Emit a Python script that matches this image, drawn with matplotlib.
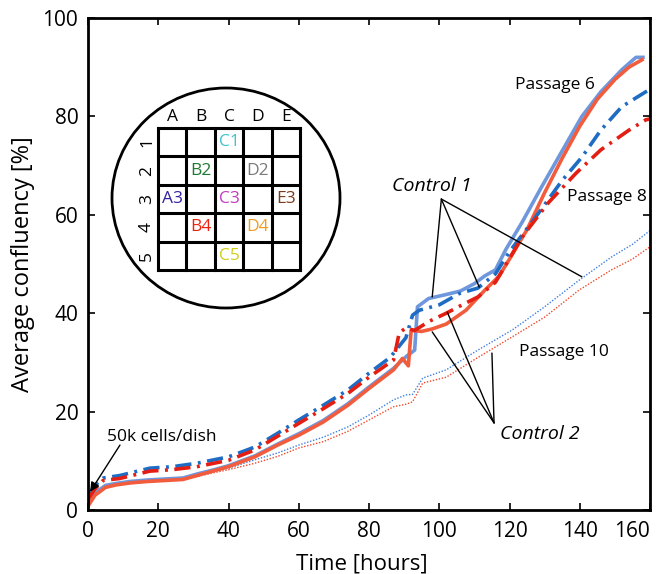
#!/usr/bin/env python3
"""Average confluency over time for three passages, with the 5x5 imaging grid inset."""

import matplotlib

matplotlib.use("Agg")
import matplotlib.pyplot as plt
from matplotlib.patches import Ellipse

plt.rcParams["font.family"] = ["Open Sans", "DejaVu Sans"]

# Passage 6 (solid), control 1 = blue, control 2 = orange
P6_BLUE_T = [0, 2, 5, 8, 12, 17, 22, 27, 31, 36, 40, 47.5, 54, 60, 67, 74, 80, 87, 90.6,
             93, 93.8, 97, 102, 106, 110, 113, 116, 119, 123.6, 129, 135, 140.6, 146, 152, 156, 158]
P6_BLUE_Y = [1.2, 3.5, 5.0, 5.4, 5.8, 6.1, 6.3, 6.5, 7.3, 8.2, 9.0, 11.0, 13.4, 15.5, 18.2, 21.6, 25.0,
             28.8, 31.2, 32.5, 41.3, 43.0, 43.8, 44.5, 46.0, 47.6, 48.8, 53.0, 58.5, 65.5, 73.0, 80.0,
             85.0, 89.5, 92.0, 92.0]
P6_ORANGE_T = [0, 2, 5, 8, 12, 17, 22, 27, 31, 36, 40, 47.5, 54, 60, 67, 74, 80, 87, 89.5, 91.2,
               92, 95, 98, 102, 107.6, 113, 117, 120, 125, 130, 135, 140, 145, 150, 154, 157.7]
P6_ORANGE_Y = [0.8, 3.0, 4.6, 5.1, 5.5, 5.8, 6.0, 6.2, 7.0, 8.0, 8.8, 10.8, 13.2, 15.2, 17.9, 21.3,
               24.7, 28.5, 30.8, 29.3, 36.5, 36.3, 36.8, 37.8, 40.6, 44.7, 47.5, 51.0, 57.0, 64.5,
               71.5, 78.0, 83.5, 87.5, 90.0, 91.5]

# Passage 8 (dash-dot)
P8_BLUE_T = [0, 2, 4.3, 9, 17.6, 24, 31, 40, 47.5, 54, 60, 67, 74, 80, 86, 90.5, 92.4, 94.3, 100,
             105.7, 111, 116, 120, 127.5, 135, 140.6, 146, 152, 158.8, 160]
P8_BLUE_Y = [3.0, 5.0, 6.5, 7.0, 8.5, 8.8, 9.5, 10.8, 12.8, 15.6, 18.3, 21.3, 24.4, 27.8, 31.0, 35.0,
             39.6, 40.6, 41.7, 44.0, 45.1, 48.0, 52.5, 59.6, 67.0, 71.7, 77.2, 82.0, 85.0, 85.5]
P8_RED_T = [0, 2, 4.3, 9, 17.6, 24, 31, 40, 47.5, 54, 60, 67, 74, 80, 87, 88.6, 90.5, 93, 97, 102,
            106, 111, 116, 123.6, 131, 139, 146, 154, 158.8, 160]
P8_RED_Y = [2.2, 4.3, 6.0, 6.4, 7.9, 8.2, 8.8, 10.1, 12.2, 15.0, 17.6, 20.6, 23.7, 27.0, 30.5, 36.0,
            37.0, 36.5, 38.3, 40.0, 41.5, 43.3, 46.3, 55.5, 62.4, 68.5, 73.2, 77.2, 79.3, 79.5]

# Passage 10 (dotted)
P10_T = [0, 2, 5, 8, 12, 17, 22, 27, 31, 36, 40, 47.5, 54, 60, 67, 74, 80, 87, 90.6, 92.4, 95.3,
         102, 111, 120.8, 130, 139.8, 149, 155, 160]
P10_BLUE_Y = [1.5, 3.6, 5.0, 5.4, 5.8, 6.2, 6.4, 6.6, 7.2, 7.9, 8.5, 10.2, 11.6, 13.2, 14.8, 16.9,
              19.3, 22.4, 23.4, 23.5, 26.8, 28.5, 32.5, 36.6, 41.3, 46.7, 51.4, 54.0, 56.8]
P10_RED_Y = [1.0, 3.2, 4.6, 5.0, 5.4, 5.8, 6.0, 6.2, 6.8, 7.6, 8.2, 9.5, 10.9, 12.6, 13.9, 16.0,
             18.3, 21.0, 21.5, 22.0, 25.8, 27.0, 31.0, 35.2, 39.2, 44.7, 48.8, 51.0, 53.5]

X_TICKS = [0, 20, 40, 60, 80, 100, 120, 140, 160]
Y_TICKS = [0, 20, 40, 60, 80, 100]

GRID_COLS = ["A", "B", "C", "D", "E"]
GRID_ROWS = ["1", "2", "3", "4", "5"]
WELLS = [("C1", 2, 0, "#3fc4cf"), ("B2", 1, 1, "#1f7a33"), ("D2", 3, 1, "#7a7a7a"),
         ("A3", 0, 2, "#3322a0"), ("C3", 2, 2, "#c03cc0"), ("E3", 4, 2, "#7a3a1a"),
         ("B4", 1, 3, "#ee2211"), ("D4", 3, 3, "#f39c1e"), ("C5", 2, 4, "#cfcf1a")]

C_P6_BLUE = "#6f97dc"
C_P6_ORANGE = "#f25c3c"
C_P8_BLUE = "#1f6cc4"
C_P8_RED = "#e41e12"
C_P10_BLUE = "#3f7fe0"
C_P10_RED = "#f0482a"
DASH_DOT = (0, (4.5, 1.8, 0.8, 1.8))


def main() -> int:
    fig = plt.figure(figsize=(6.56, 5.74), dpi=100)
    ax = fig.add_axes([88 / 656, 64 / 574, 562 / 656, 492 / 574])

    ax.plot(P10_T, P10_BLUE_Y, color=C_P10_BLUE, lw=1.0, ls=(0, (1, 1.2)))
    ax.plot(P10_T, P10_RED_Y, color=C_P10_RED, lw=1.0, ls=(0, (1, 1.2)))
    ax.plot(P6_BLUE_T, P6_BLUE_Y, color=C_P6_BLUE, lw=2.6, solid_joinstyle="round")
    ax.plot(P6_ORANGE_T, P6_ORANGE_Y, color=C_P6_ORANGE, lw=2.6, solid_joinstyle="round")
    ax.plot(P8_BLUE_T, P8_BLUE_Y, color=C_P8_BLUE, lw=2.6, ls=DASH_DOT)
    ax.plot(P8_RED_T, P8_RED_Y, color=C_P8_RED, lw=2.6, ls=DASH_DOT)

    ax.set_xlim(0, 160)
    ax.set_ylim(0, 100)
    ax.set_xticks(X_TICKS)
    ax.set_yticks(Y_TICKS)
    ax.tick_params(direction="in", length=5, width=1.2, labelsize=15, top=True, right=True)
    ax.tick_params(axis="x", pad=8)
    ax.tick_params(axis="y", pad=7)
    for label in ax.get_xticklabels():
        if label.get_text() == "160":
            label.set_horizontalalignment("right")
    for spine in ax.spines.values():
        spine.set_linewidth(2.0)
    ax.set_xlabel("Time [hours]", fontsize=16)
    ax.set_ylabel("Average confluency [%]", fontsize=17)
    ax.xaxis.set_label_coords(0.488, -0.088)
    ax.yaxis.set_label_coords(-0.094, 0.5)

    # text annotations
    ax.text(133, 86.4, "Passage 6", fontsize=12.5, ha="center", va="center")
    ax.text(147.7, 63.6, "Passage 8", fontsize=12.5, ha="center", va="center")
    ax.text(135.5, 32.1, "Passage 10", fontsize=12.5, ha="center", va="center")
    ax.text(98, 65.8, "Control 1", fontsize=14, style="italic", ha="center", va="center")
    ax.text(128.7, 15.4, "Control 2", fontsize=14, style="italic", ha="center", va="center")
    for target in [(98, 43.3), (111.4, 45.3), (140.6, 47.4)]:
        ax.annotate("", xy=target, xytext=(100.6, 63.2),
                    arrowprops=dict(arrowstyle="-", color="black", lw=1.0, shrinkA=0, shrinkB=0))
    for target in [(98, 36.2), (102.3, 40.2), (115, 31.9)]:
        ax.annotate("", xy=target, xytext=(115.6, 17.7),
                    arrowprops=dict(arrowstyle="-", color="black", lw=1.0, shrinkA=0, shrinkB=0))
    ax.text(5.5, 14.8, "50k cells/dish", fontsize=12.5, ha="left", va="center")
    ax.annotate("", xy=(0.6, 3.7), xytext=(9.1, 13.2),
                arrowprops=dict(arrowstyle="-|>", color="black", lw=1.0, mutation_scale=14,
                                shrinkA=0, shrinkB=0))

    # plate inset, drawn in pixel units
    inset = fig.add_axes([110 / 656, (574 - 312) / 574, 234 / 656, 228 / 574])
    inset.set_xlim(110, 344)
    inset.set_ylim(312, 84)
    inset.axis("off")
    inset.add_patch(Ellipse((226, 198), 228, 220, fill=False, lw=2.0, ec="black"))
    x0, y0, cell = 158, 128, 28.4
    for i in range(6):
        inset.plot([x0 + i * cell, x0 + i * cell], [y0, y0 + 5 * cell], color="black", lw=2.2,
                   solid_capstyle="projecting")
        inset.plot([x0, x0 + 5 * cell], [y0 + i * cell, y0 + i * cell], color="black", lw=2.2,
                   solid_capstyle="projecting")
    for i, name in enumerate(GRID_COLS):
        inset.text(x0 + (i + 0.5) * cell, y0 - 11, name, fontsize=12.5, ha="center", va="center")
    for j, name in enumerate(GRID_ROWS):
        inset.text(x0 - 11, y0 + (j + 0.5) * cell, name, fontsize=12.5, ha="center", va="center",
                   rotation=90)
    for name, col, row, color in WELLS:
        inset.text(x0 + (col + 0.5) * cell, y0 + (row + 0.5) * cell, name, fontsize=12.5,
                   color=color, ha="center", va="center")

    fig.savefig("out.png", dpi=100)
    plt.close(fig)
    return 0


if __name__ == "__main__":
    raise SystemExit(main())
